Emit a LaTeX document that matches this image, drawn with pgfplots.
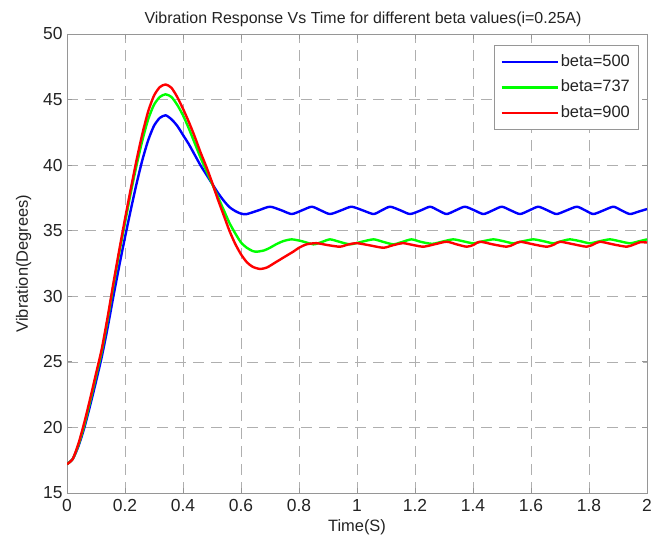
\documentclass[border=0pt]{standalone}
\usepackage{fontspec}
\setmainfont{Liberation Sans}
\usepackage{pgfplots}
\pgfplotsset{compat=1.18}
\definecolor{gridgray}{RGB}{175,175,175}
\definecolor{axgray}{RGB}{150,150,150}
\definecolor{txt}{RGB}{35,35,35}
\begin{document}
\begin{tikzpicture}[x=1bp,y=1bp]
\useasboundingbox (0,0) rectangle (653,543);
\begin{axis}[
  at={(67bp,50bp)}, anchor=south west,
  scale only axis, width=580bp, height=459bp,
  xmin=0, xmax=2, ymin=15, ymax=50,
  xtick={0,0.2,...,2.01}, ytick={15,20,...,50},
  xticklabels={0,0.2,0.4,0.6,0.8,1,1.2,1.4,1.6,1.8,2},
  /pgf/number format/assume math mode=true,
  tick label style={font=\fontsize{17.5}{18}\selectfont, text=txt},
  xticklabel style={yshift=-3bp},
  yticklabel style={xshift=-1bp},
  grid=major,
  major grid style={gridgray, dash pattern=on 11bp off 7bp, line width=0.7bp},
  axis line style={axgray, line width=0.8bp},
  tick style={axgray, line width=0.8bp},
  tick align=inside, major tick length=5bp,
  xtick pos=both, ytick pos=both,
  title={Vibration Response Vs Time for different beta values(i=0.25A)},
  title style={font=\fontsize{16}{16}\selectfont, text=txt, at={(0.5,1)}, anchor=base, xshift=6bp, yshift=5bp},
  xlabel={Time(S)}, ylabel={Vibration(Degrees)},
  label style={font=\fontsize{16.5}{17}\selectfont, text=txt},
  xlabel style={yshift=-1bp},
  ylabel style={yshift=5bp},
  legend style={at={(1,1)}, anchor=north east, xshift=-9bp, yshift=-11bp,
    draw=axgray, font=\fontsize{16.5}{17}\selectfont, text=txt,
    nodes={text height=13bp, text depth=4.5bp, inner ysep=4bp},
    inner xsep=6bp, inner ysep=4bp},
  legend cell align=left,
  legend image code/.code={\draw[#1, line width=2.5bp] (0bp,0bp) -- (56bp,0bp);},
  every axis plot/.append style={line width=2.4bp, line join=round, smooth, tension=0.4},
]
\addplot[blue] coordinates {
(0,17.2) (0.02,17.6) (0.04,18.6) (0.06,20.0) (0.08,21.7) (0.10,23.5) (0.12,25.4)
(0.14,27.6) (0.16,30.0) (0.18,32.3) (0.20,34.5) (0.22,36.6) (0.24,38.6) (0.26,40.4)
(0.28,41.9) (0.30,43.0) (0.32,43.6) (0.34,43.8) (0.36,43.5) (0.38,43.0) (0.40,42.3)
(0.42,41.6) (0.44,40.8) (0.46,40.0) (0.48,39.3) (0.50,38.6) (0.52,37.9) (0.54,37.3)
(0.56,36.8) (0.58,36.5) (0.60,36.3) (0.62,36.27) (0.66,36.55) (0.70,36.83) (0.74,36.55)
(0.775,36.27) (0.81,36.55) (0.844,36.83) (0.875,36.55) (0.907,36.27) (0.945,36.55)
(0.981,36.83) (1.02,36.55) (1.057,36.27) (1.085,36.55) (1.114,36.83) (1.15,36.55)
(1.183,36.27) (1.22,36.55) (1.252,36.83) (1.28,36.55) (1.309,36.27) (1.34,36.55)
(1.372,36.83) (1.405,36.55) (1.436,36.27) (1.468,36.55) (1.499,36.83) (1.53,36.55)
(1.562,36.27) (1.594,36.55) (1.625,36.83) (1.657,36.55) (1.688,36.27) (1.723,36.55)
(1.758,36.83) (1.787,36.55) (1.815,36.27) (1.85,36.55) (1.884,36.83) (1.912,36.55)
(1.941,36.27) (1.97,36.45) (2.0,36.65)
};
\addlegendentry{beta=500}
\addplot[green] coordinates {
(0,17.2) (0.02,17.6) (0.04,18.7) (0.06,20.2) (0.08,22.0) (0.10,23.9) (0.12,25.8)
(0.14,28.2) (0.16,30.8) (0.18,33.3) (0.20,35.6) (0.22,37.9) (0.24,40.0) (0.26,41.9)
(0.28,43.5) (0.30,44.6) (0.32,45.2) (0.34,45.4) (0.36,45.2) (0.38,44.6) (0.40,43.8)
(0.42,42.8) (0.44,41.7) (0.46,40.6) (0.48,39.6) (0.50,38.6) (0.52,37.6) (0.54,36.6)
(0.56,35.6) (0.58,34.8) (0.60,34.1) (0.62,33.7) (0.64,33.45) (0.655,33.4) (0.68,33.5)
(0.70,33.7) (0.72,33.95) (0.745,34.2) (0.775,34.34) (0.81,34.2) (0.85,33.96) (0.88,34.15)
(0.907,34.34) (0.94,34.15) (0.976,33.96) (1.015,34.15) (1.057,34.34) (1.09,34.15)
(1.126,33.96) (1.157,34.15) (1.188,34.34) (1.22,34.15) (1.26,34.0) (1.3,34.2)
(1.332,34.34) (1.365,34.2) (1.401,34.04) (1.435,34.2) (1.47,34.34) (1.505,34.2)
(1.539,34.04) (1.573,34.2) (1.608,34.34) (1.643,34.2) (1.677,34.04) (1.705,34.2)
(1.734,34.34) (1.77,34.2) (1.803,34.04) (1.837,34.2) (1.872,34.34) (1.905,34.2)
(1.941,34.04) (1.97,34.18) (2.0,34.34)
};
\addlegendentry{beta=737}
\addplot[red] coordinates {
(0,17.2) (0.02,17.6) (0.04,18.8) (0.06,20.4) (0.08,22.2) (0.10,24.1) (0.12,26.0)
(0.14,28.4) (0.16,31.0) (0.18,33.5) (0.20,35.9) (0.22,38.2) (0.24,40.4) (0.26,42.4)
(0.28,44.1) (0.30,45.3) (0.32,45.95) (0.34,46.15) (0.36,45.9) (0.38,45.2) (0.40,44.3)
(0.42,43.3) (0.44,42.2) (0.46,41.0) (0.48,39.9) (0.50,38.7) (0.52,37.4) (0.54,36.2)
(0.56,35.0) (0.58,34.0) (0.60,33.2) (0.62,32.6) (0.64,32.25) (0.666,32.08) (0.69,32.2)
(0.72,32.6) (0.75,33.0) (0.78,33.4) (0.80,33.7) (0.826,33.96) (0.86,34.05) (0.90,33.9)
(0.941,33.78) (0.97,33.95) (0.999,34.05) (1.04,33.9) (1.091,33.7) (1.125,33.9)
(1.159,34.05) (1.195,33.9) (1.229,33.78) (1.265,33.95) (1.309,34.16) (1.345,33.95)
(1.378,33.78) (1.40,33.9) (1.424,34.16) (1.47,33.95) (1.516,33.78) (1.54,33.95)
(1.562,34.16) (1.61,33.95) (1.654,33.78) (1.68,33.95) (1.7,34.16) (1.75,33.95)
(1.792,33.78) (1.815,33.95) (1.838,34.16) (1.885,33.95) (1.93,33.78) (1.955,33.95)
(1.976,34.12) (2.0,34.1)
};
\addlegendentry{beta=900}
\end{axis}
\end{tikzpicture}
\end{document}
